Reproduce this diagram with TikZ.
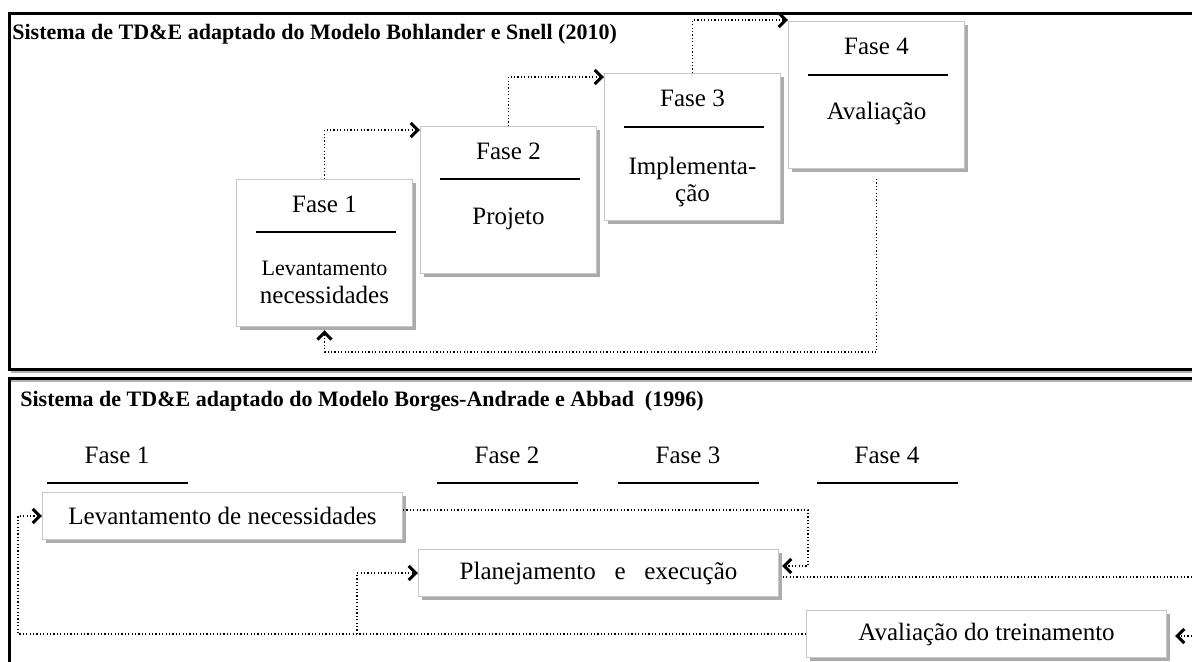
\documentclass[tikz,border=0pt]{standalone}
\usepackage{fontspec}
\setmainfont{Liberation Serif}
\usetikzlibrary{arrows.meta,shadows}
\begin{document}
\begin{tikzpicture}[x=0.5pt,y=-0.5pt,
  sectionframe/.style={line width=1.5pt, draw=black},
  frameshade/.style={line width=1.2pt, draw=black!30},
  phasebox/.style={draw=black!22, line width=0.5pt, fill=white, inner sep=0pt,
    anchor=north west, minimum width=88pt, minimum height=73.5pt,
    font=\fontsize{12.5pt}{15pt}\selectfont,
    drop shadow={shadow xshift=1.6pt, shadow yshift=-1.6pt, fill=black!60, opacity=0.55}},
  stepbox/.style={phasebox, minimum width=180pt, minimum height=23.5pt},
  bodytext/.style={font=\fontsize{12.5pt}{15pt}\selectfont, inner sep=0pt, anchor=base},
  smalltext/.style={bodytext, font=\fontsize{11pt}{13pt}\selectfont},
  titletext/.style={font=\fontsize{11pt}{13pt}\selectfont\bfseries, inner sep=0pt, anchor=base west},
  phaserule/.style={line width=0.75pt},
  dotline/.style={line width=0.6pt, dash pattern=on 0.6pt off 1.1pt},
  flowarrow/.style={dotline, -{Straight Barb[length=3.6pt,width=7pt,line width=1.5pt]}},
]
\useasboundingbox (0,0) rectangle (1192,661);
\clip (0,0) rectangle (1192,661);

% section frames
\draw[frameshade] (11,372) -- (1210,372);
\draw[frameshade] (11,381) -- (1210,381);
\draw[sectionframe] (9,13) rectangle (1210,369);
\draw[sectionframe] (9,378) rectangle (1210,700);

% ---------- upper model: four stepped phases ----------
\node[titletext] (t1) at (12,39) {Sistema de TD\&E adaptado do Modelo Bohlander e Snell (2010)};

\node[phasebox] (b1) at (236,179) {};
\node[phasebox] (b2) at (420,126) {};
\node[phasebox] (b3) at (604,73) {};
\node[phasebox] (b4) at (788,21) {};

\node[bodytext] (f1) at ([yshift=-16.5pt]b1.north) {Fase 1};
\draw[phaserule] ([xshift=10pt,yshift=-26.5pt]b1.north west) -- ([xshift=-8.5pt,yshift=-26.5pt]b1.north east);
\node[smalltext] (d1a) at ([yshift=-48pt]b1.north) {Levantamento};
\node[bodytext] (d1b) at ([yshift=-62pt]b1.north) {necessidades};

\node[bodytext] (f2) at ([yshift=-16.5pt]b2.north) {Fase 2};
\draw[phaserule] ([xshift=10pt,yshift=-26.5pt]b2.north west) -- ([xshift=-8.5pt,yshift=-26.5pt]b2.north east);
\node[bodytext] (d2) at ([yshift=-49pt]b2.north) {Projeto};

\node[bodytext] (f3) at ([yshift=-16.5pt]b3.north) {Fase 3};
\draw[phaserule] ([xshift=10pt,yshift=-27pt]b3.north west) -- ([xshift=-8.5pt,yshift=-27pt]b3.north east);
\node[bodytext] (d3a) at ([yshift=-50.5pt]b3.north) {Implementa-};
\node[bodytext] (d3b) at ([yshift=-64pt]b3.north) {ção};

\node[bodytext] (f4) at ([yshift=-16.5pt]b4.north) {Fase 4};
\draw[phaserule] ([xshift=10pt,yshift=-27pt]b4.north west) -- ([xshift=-8.5pt,yshift=-27pt]b4.north east);
\node[bodytext] (d4) at ([yshift=-49pt]b4.north) {Avaliação};

\draw[flowarrow] (b1.north) |- ([yshift=-2pt]b2.north west);
\draw[flowarrow] (b2.north) |- ([yshift=-2pt]b3.north west);
\draw[flowarrow] (b3.north) |- ([yshift=0.5pt]b4.north west);

\coordinate (retrow) at (0,352);
\draw[flowarrow] ([yshift=-5pt]b4.south) |- (retrow -| b1.south) -- ([yshift=-1.6pt]b1.south);

% ---------- lower model: three activities ----------
\node[titletext] (t2) at (20,406) {Sistema de TD\&E adaptado do Modelo Borges-Andrade e Abbad\ \ (1996)};

\node[bodytext] (g1) at (117,463) {Fase 1};
\node[bodytext] (g2) at (507,463) {Fase 2};
\node[bodytext] (g3) at (688,463) {Fase 3};
\node[bodytext] (g4) at (887,463) {Fase 4};
\draw[phaserule] (47,483) -- (188,483);
\draw[phaserule] (437,483) -- (578,483);
\draw[phaserule] (618,483) -- (759,483);
\draw[phaserule] (817,483) -- (958,483);

\node[stepbox] (L) at (42,492) {Levantamento de necessidades};
\node[stepbox] (P) at (418,549) {Planejamento\hspace{0.75em}e\hspace{0.75em}execução};
\node[stepbox] (A) at (806,610) {Avaliação do treinamento};

\coordinate (ljog) at (808,566);
\draw[flowarrow, shorten >=1.5pt] ([yshift=3pt]L.east) -| (ljog) -- (ljog -| P.east);

\coordinate (rin1) at (1192,577);
\draw[dotline, shorten >=1.5pt] (rin1) -- (rin1 -| P.east);
\coordinate (rin2) at (1192,636);
\draw[flowarrow, shorten >=4pt] (rin2) -- (rin2 -| A.east);

\coordinate (lcol) at (18,0);
\coordinate (pcol) at (357,0);
\draw[flowarrow] (A.west) -- (A.west -| lcol) |- (L.west);
\draw[flowarrow] (A.west -| pcol) |- (P.west);
\end{tikzpicture}
\end{document}
